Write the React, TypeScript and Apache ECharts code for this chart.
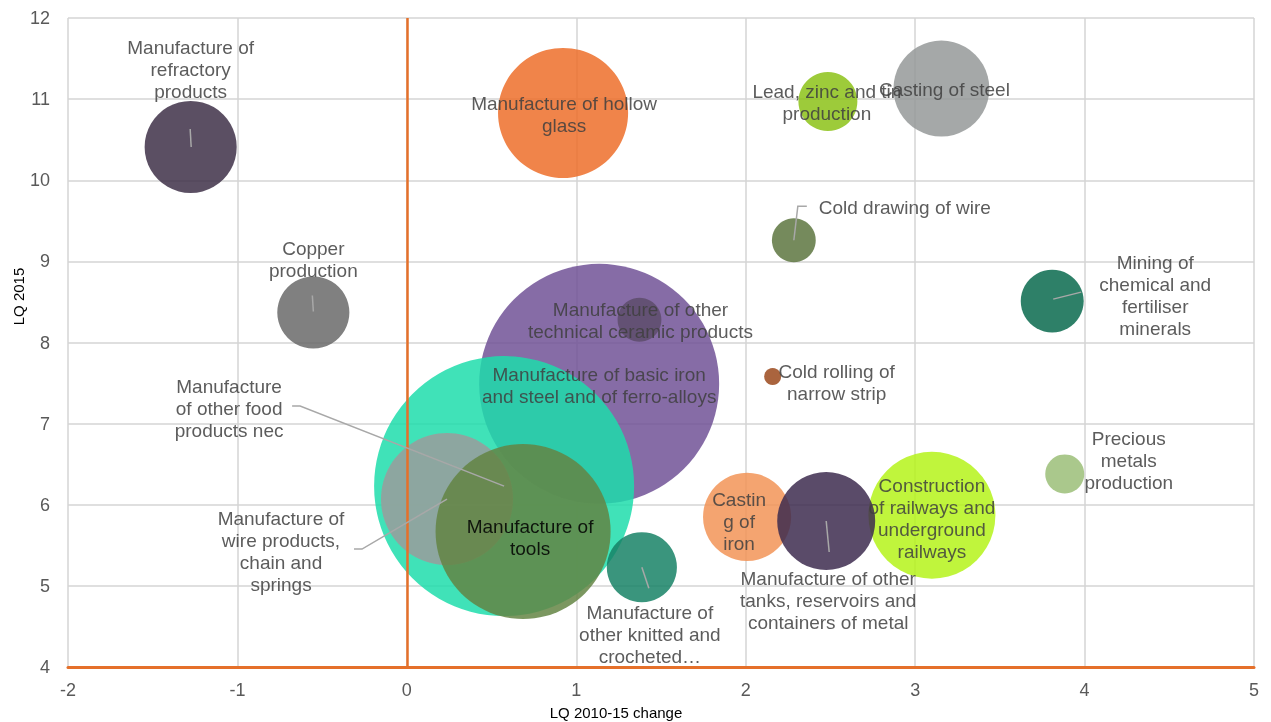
import { useEffect, useRef } from "react";
import * as echarts from "echarts";

// ---- Data ----
const names = [
  "Manufacture of\nrefractory\nproducts",
  "Copper\nproduction",
  "Manufacture of hollow\nglass",
  "Lead, zinc and tin\nproduction",
  "Casting of steel",
  "Cold drawing of wire",
  "Mining of\nchemical and\nfertiliser\nminerals",
  "Manufacture of basic iron\nand steel and of ferro-alloys",
  "Manufacture of other\ntechnical ceramic products",
  "Manufacture\nof other food\nproducts nec",
  "Manufacture of\nwire products,\nchain and\nsprings",
  "Manufacture of\ntools",
  "Manufacture of\nother knitted and\ncrocheted…",
  "Castin\ng of\niron",
  "Construction\nof railways and\nunderground\nrailways",
  "Manufacture of other\ntanks, reservoirs and\ncontainers of metal",
  "Precious\nmetals\nproduction",
  "Cold rolling of\nnarrow strip",
];
const lqChange = [-1.276, -0.552, 0.922, 2.485, 3.155, 2.284, 3.809, 1.135, 1.373, 0.574, 0.237, 0.686, 1.387, 2.008, 3.099, 2.475, 3.883, 2.159];
const lq2015 = [10.41, 8.37, 10.83, 10.97, 11.13, 9.26, 8.51, 7.49, 8.28, 6.23, 6.07, 5.67, 5.23, 5.85, 5.87, 5.8, 6.38, 7.58];
const bubbleSize = [21.2, 13.0, 42.3, 8.7, 23.0, 4.8, 9.9, 144, 4.8, 169, 43.6, 76.6, 12.3, 19.4, 40.3, 24.0, 3.8, 0.72];

const xTicks = { min: -2, max: 5, interval: 1 };
const yTicks = { min: 4, max: 12, interval: 1 };

// ---- Styles ----
const colors = [
  "#3e3048", "#6a6a6a", "#ed6f2a", "#8cc217", "#959999", "#5d7540", "#096a4d", "#715296", "#5e4e6c",
  "#1eddac", "#9c9c9c", "#648544", "#178366", "#f29457", "#b5f31a", "#3d2b4f", "#9bbe78", "#9b491c",
];
const labelOffsets: number[][] = [
  [0, -77], [0, -53], [1, 2], [-1, 1], [3, 1], [111, -33], [103, -6], [0, 2], [1, 1],
  [-275, -78], [-166, 52], [7, 6], [8, 67], [-8, 5], [0, 3], [2, 80], [64, -13], [64, 6],
];
const leaders: Record<number, number[][]> = {
  0: [[0.5, 0], [-0.5, -18]],
  1: [[0, -1], [-1, -17]],
  5: [[0, 0], [4, -34], [13, -34]],
  6: [[1, -2], [29, -9]],
  9: [[0, 0], [-204, -80], [-212, -80]],
  10: [[0, 0], [-85, 50], [-93, 50]],
  12: [[0, 0], [7, 21]],
  15: [[0, 0], [3, 31]],
};
const ORANGE = "#e5702a";
const GRID = "#d4d4d4";
const FONT = "'Liberation Sans', Arial, sans-serif";

export default function App() {
  const ref = useRef<HTMLDivElement>(null);
  useEffect(() => {
    const chart = echarts.init(ref.current!, null, { renderer: "svg" });
    const scatterData = names.map((n, i) => ({
      name: n,
      value: [lqChange[i], lq2015[i], bubbleSize[i]],
      itemStyle: { color: colors[i], opacity: 0.85 },
      label: {
        offset: labelOffsets[i],
        color: i === 11 ? "#000000" : "#404040",
      },
    }));
    const leaderIdx = Object.keys(leaders).map(Number);
    chart.setOption({
      animation: false,
      grid: { left: 68, right: 17, top: 18, bottom: 55, containLabel: false, outerBoundsMode: "none" },
      xAxis: {
        type: "value",
        min: xTicks.min,
        max: xTicks.max,
        interval: xTicks.interval,
        name: "LQ 2010-15 change",
        nameLocation: "middle",
        nameGap: 38,
        nameMoveOverlap: false,
        nameTextStyle: { fontSize: 15, color: "#000", fontFamily: FONT, padding: [0, 90, 0, 0] },
        axisLine: { show: true, onZero: false, lineStyle: { color: ORANGE, width: 3 } },
        axisTick: { show: false },
        axisLabel: { fontSize: 18, color: "#595959", fontFamily: FONT, margin: 14 },
        splitLine: { show: true, lineStyle: { color: GRID, width: 1.5 } },
      },
      yAxis: {
        type: "value",
        min: yTicks.min,
        max: yTicks.max,
        interval: yTicks.interval,
        name: "LQ 2015",
        nameLocation: "middle",
        nameGap: 42,
        nameRotate: 90,
        nameMoveOverlap: false,
        nameTextStyle: { fontSize: 15, color: "#000", fontFamily: FONT, padding: [0, 0, 0, 92] },
        axisLine: { show: false, onZero: false },
        axisTick: { show: false },
        axisLabel: { fontSize: 18, color: "#595959", fontFamily: FONT, margin: 18 },
        splitLine: { show: true, lineStyle: { color: GRID, width: 1.5 } },
      },
      series: [
        {
          type: "scatter",
          z: 1,
          data: [],
          markLine: {
            silent: true,
            symbol: ["none", "none"],
            label: { show: false },
            lineStyle: { color: ORANGE, width: 2.5, type: "solid" },
            data: [{ xAxis: 0 }],
          },
        },
        {
          type: "scatter",
          z: 2,
          data: scatterData,
          symbolSize: (v: number[]) => 20 * Math.sqrt(v[2]),
          label: {
            show: true,
            position: "inside",
            formatter: (p: any) => p.name,
            fontSize: 19,
            lineHeight: 22,
            fontFamily: FONT,
            align: "center",
            verticalAlign: "middle",
            textBorderWidth: 0,
          },
          emphasis: { disabled: true },
        },
        {
          type: "custom",
          z: 5,
          silent: true,
          data: leaderIdx.map((i) => [lqChange[i], lq2015[i], i]),
          renderItem: (params: any, api: any) => {
            const c = api.coord([api.value(0), api.value(1)]);
            const pts = leaders[api.value(2)].map((p) => [c[0] + p[0], c[1] + p[1]]);
            return {
              type: "polyline",
              shape: { points: pts },
              style: { stroke: "#a8a8a8", lineWidth: 1.5, fill: "none" },
            };
          },
        },
      ],
    });
    return () => chart.dispose();
  }, []);
  return <div ref={ref} style={{ position: "fixed", left: 0, top: 0, width: 1271, height: 722 }} />;
}
